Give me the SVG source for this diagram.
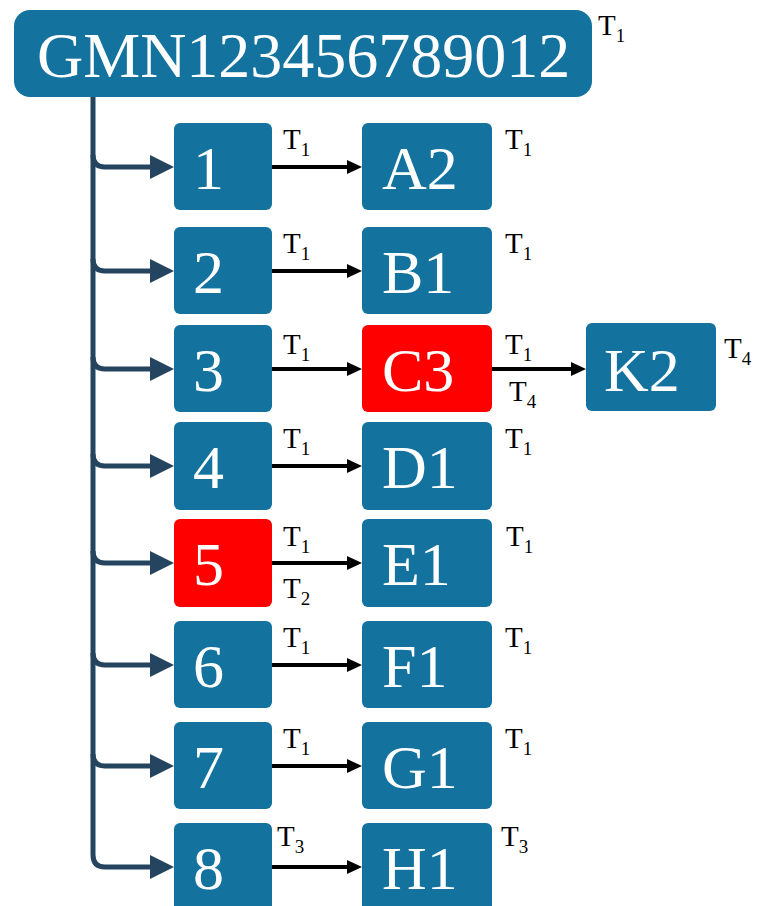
<svg xmlns="http://www.w3.org/2000/svg" width="762" height="906" viewBox="0 0 762 906">
<style>
.box{fill:#13739e}
.red{fill:#ff0000}
.bt{font-size:62px;fill:#ffffff}
.big{font-size:64px;fill:#ffffff}
.t{font-size:29px;fill:#000000}
.s{font-size:19px}
.trunk{fill:none;stroke:#24445f;stroke-width:5}
.arr{fill:none;stroke:#000000;stroke-width:4}
</style>
<defs>
<marker id="dh" viewBox="0 0 24 24" markerWidth="24" markerHeight="24" markerUnits="userSpaceOnUse" refX="0" refY="12" orient="auto">
<path d="M0,0 L24,12 L0,24 z" fill="#24445f"/>
</marker>
<marker id="bh" viewBox="0 0 15 14" markerWidth="15" markerHeight="14" markerUnits="userSpaceOnUse" refX="0" refY="7" orient="auto">
<path d="M0,0 L15,7 L0,14 z" fill="#000000"/>
</marker>
</defs>

<g id="connectors">
<path class="trunk" d="M93,96 L93,855 Q93,867 105,867 L150,867" marker-end="url(#dh)"/>
<path class="trunk" d="M93,155 Q93,167 105,167 L150,167" marker-end="url(#dh)"/>
<path class="trunk" d="M93,259 Q93,271 105,271 L150,271" marker-end="url(#dh)"/>
<path class="trunk" d="M93,357 Q93,369 105,369 L150,369" marker-end="url(#dh)"/>
<path class="trunk" d="M93,454 Q93,466 105,466 L150,466" marker-end="url(#dh)"/>
<path class="trunk" d="M93,551 Q93,563 105,563 L150,563" marker-end="url(#dh)"/>
<path class="trunk" d="M93,653 Q93,665 105,665 L150,665" marker-end="url(#dh)"/>
<path class="trunk" d="M93,754 Q93,766 105,766 L150,766" marker-end="url(#dh)"/>
<line class="arr" x1="272" y1="167" x2="347" y2="167" marker-end="url(#bh)"/>
<line class="arr" x1="272" y1="271" x2="347" y2="271" marker-end="url(#bh)"/>
<line class="arr" x1="272" y1="369" x2="347" y2="369" marker-end="url(#bh)"/>
<line class="arr" x1="492" y1="369" x2="571" y2="369" marker-end="url(#bh)"/>
<line class="arr" x1="272" y1="466" x2="347" y2="466" marker-end="url(#bh)"/>
<line class="arr" x1="272" y1="563" x2="347" y2="563" marker-end="url(#bh)"/>
<line class="arr" x1="272" y1="665" x2="347" y2="665" marker-end="url(#bh)"/>
<line class="arr" x1="272" y1="766" x2="347" y2="766" marker-end="url(#bh)"/>
<line class="arr" x1="272" y1="867" x2="347" y2="867" marker-end="url(#bh)"/>
</g>

<g font-family="Liberation Serif, Times New Roman, serif">
<g id="root">
<rect class="box" x="14" y="10" width="578" height="87" rx="16"/>
<text class="big" x="37" y="77">GMN123456789012</text>
<text class="t" x="598" y="35">T<tspan class="s" dy="7">1</tspan></text>
</g>

<g id="n1"><rect class="box" x="174" y="123" width="98" height="87" rx="6"/><text class="bt" x="193" y="189">1</text><text class="t" x="283" y="149">T<tspan class="s" dy="7">1</tspan></text></g>
<g id="nA2"><rect class="box" x="362" y="123" width="130" height="87" rx="6"/><text class="bt" x="382" y="189">A2</text><text class="t" x="505" y="149">T<tspan class="s" dy="7">1</tspan></text></g>

<g id="n2"><rect class="box" x="174" y="227" width="98" height="87" rx="6"/><text class="bt" x="193" y="293">2</text><text class="t" x="283" y="253">T<tspan class="s" dy="7">1</tspan></text></g>
<g id="nB1"><rect class="box" x="362" y="227" width="130" height="87" rx="6"/><text class="bt" x="382" y="293">B1</text><text class="t" x="505" y="253">T<tspan class="s" dy="7">1</tspan></text></g>

<g id="n3"><rect class="box" x="174" y="325" width="98" height="87" rx="6"/><text class="bt" x="193" y="391">3</text><text class="t" x="283" y="354">T<tspan class="s" dy="7">1</tspan></text></g>
<g id="nC3"><rect class="red" x="362" y="325" width="130" height="87" rx="6"/><text class="bt" x="382" y="391">C3</text><text class="t" x="505" y="354">T<tspan class="s" dy="7">1</tspan></text><text class="t" x="509" y="401">T<tspan class="s" dy="7">4</tspan></text></g>
<g id="nK2"><rect class="box" x="586" y="323" width="130" height="88" rx="6"/><text class="bt" x="604" y="391">K2</text><text class="t" x="724" y="358">T<tspan class="s" dy="7">4</tspan></text></g>

<g id="n4"><rect class="box" x="174" y="422" width="98" height="88" rx="6"/><text class="bt" x="193" y="488">4</text><text class="t" x="283" y="448">T<tspan class="s" dy="7">1</tspan></text></g>
<g id="nD1"><rect class="box" x="362" y="422" width="130" height="88" rx="6"/><text class="bt" x="382" y="488">D1</text><text class="t" x="505" y="448">T<tspan class="s" dy="7">1</tspan></text></g>

<g id="n5"><rect class="red" x="174" y="519" width="98" height="88" rx="6"/><text class="bt" x="193" y="585">5</text><text class="t" x="283" y="546">T<tspan class="s" dy="7">1</tspan></text><text class="t" x="283" y="598">T<tspan class="s" dy="7">2</tspan></text></g>
<g id="nE1"><rect class="box" x="362" y="519" width="130" height="88" rx="6"/><text class="bt" x="382" y="585">E1</text><text class="t" x="506" y="546">T<tspan class="s" dy="7">1</tspan></text></g>

<g id="n6"><rect class="box" x="174" y="621" width="98" height="87" rx="6"/><text class="bt" x="193" y="687">6</text><text class="t" x="283" y="647">T<tspan class="s" dy="7">1</tspan></text></g>
<g id="nF1"><rect class="box" x="362" y="621" width="130" height="87" rx="6"/><text class="bt" x="382" y="687">F1</text><text class="t" x="505" y="647">T<tspan class="s" dy="7">1</tspan></text></g>

<g id="n7"><rect class="box" x="174" y="722" width="98" height="87" rx="6"/><text class="bt" x="193" y="788">7</text><text class="t" x="283" y="748">T<tspan class="s" dy="7">1</tspan></text></g>
<g id="nG1"><rect class="box" x="362" y="722" width="130" height="87" rx="6"/><text class="bt" x="382" y="788">G1</text><text class="t" x="505" y="748">T<tspan class="s" dy="7">1</tspan></text></g>

<g id="n8"><rect class="box" x="174" y="823" width="98" height="92" rx="6"/><text class="bt" x="193" y="889">8</text><text class="t" x="277" y="846">T<tspan class="s" dy="7">3</tspan></text></g>
<g id="nH1"><rect class="box" x="362" y="823" width="130" height="92" rx="6"/><text class="bt" x="382" y="889">H1</text><text class="t" x="501" y="846">T<tspan class="s" dy="7">3</tspan></text></g>
</g>
</svg>
